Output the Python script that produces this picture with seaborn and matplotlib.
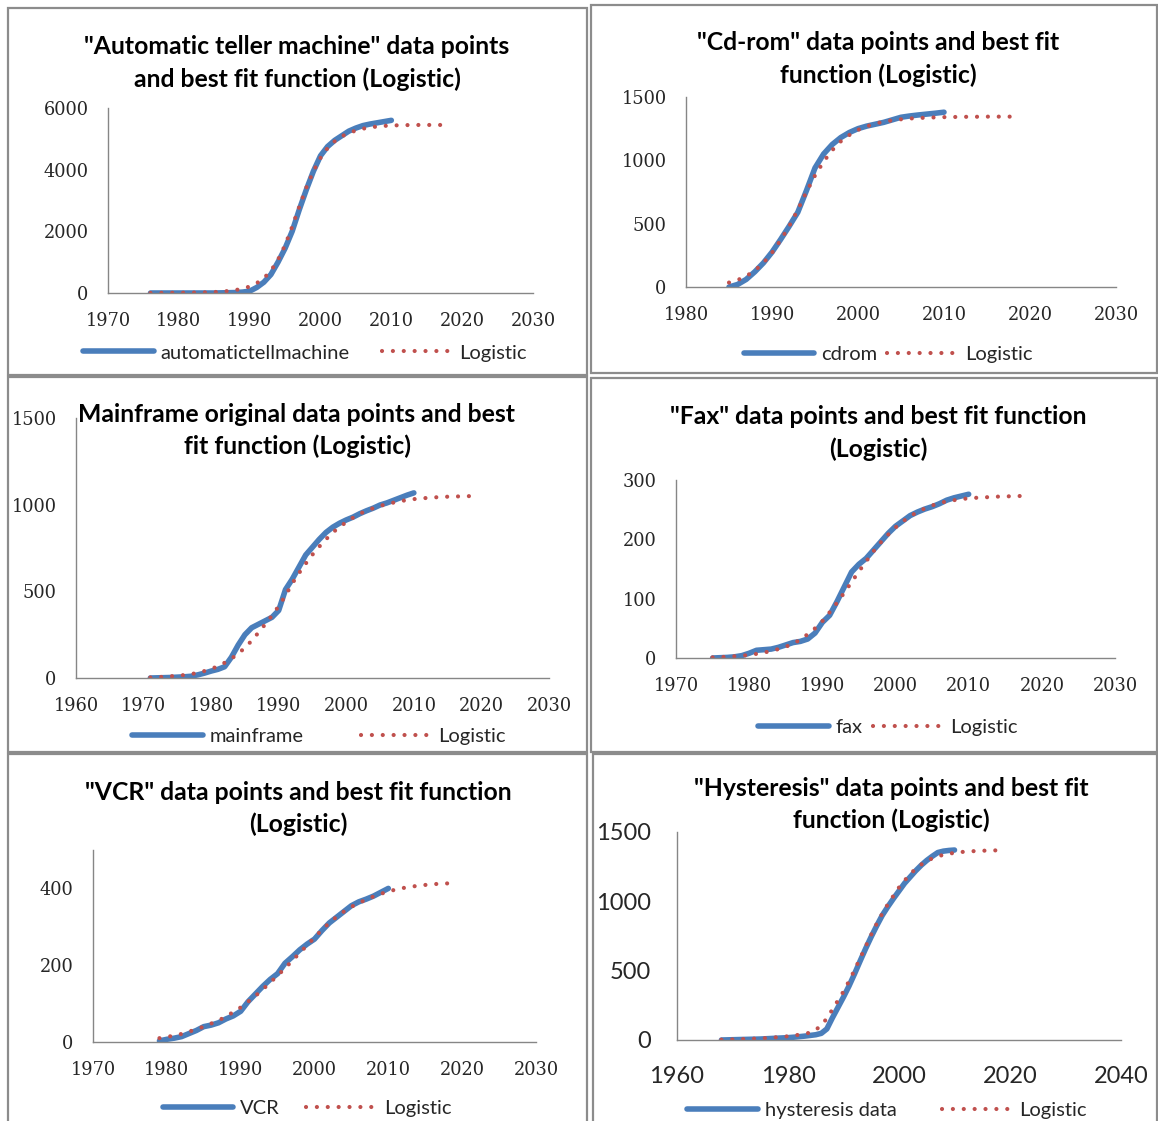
import matplotlib
matplotlib.use('Agg')
import matplotlib.pyplot as plt
from matplotlib.patches import Rectangle
import seaborn as sns

# ---- data ----
atm_years = list(range(1976, 2011))
atm_data = [0, 0, 0, 0, 0, 0, 0, 0, 0, 0,
            5, 10, 15, 30, 60, 180, 350, 600, 1000, 1450,
            2000, 2700, 3350, 3950, 4450, 4750, 4950, 5100, 5250, 5350,
            5430, 5480, 5520, 5560, 5600]
atm_fit_years = list(range(1976, 2019))
atm_fit = [2, 3, 4, 5, 7, 9, 12, 16, 22, 30,
           45, 65, 95, 140, 210, 320, 480, 720, 1080, 1550,
           2150, 2800, 3420, 3950, 4380, 4700, 4920, 5080, 5190, 5270,
           5330, 5370, 5400, 5420, 5430, 5440, 5445, 5448, 5450, 5450,
           5450, 5450, 5450]

cd_years = list(range(1985, 2011))
cd_data = [0, 20, 60, 120, 190, 275, 375, 480, 590, 760,
           940, 1050, 1125, 1180, 1220, 1250, 1270, 1285, 1300, 1320,
           1340, 1350, 1358, 1365, 1372, 1380]
cd_fit_years = list(range(1985, 2019))
cd_fit = [35, 55, 85, 130, 190, 270, 370, 480, 610, 750,
          880, 990, 1080, 1150, 1200, 1240, 1268, 1290, 1305, 1316,
          1324, 1330, 1334, 1337, 1339, 1341, 1342, 1343, 1344, 1344,
          1345, 1345, 1345, 1345]

mf_years = list(range(1971, 2011))
mf_data = [0, 1, 2, 3, 5, 7, 10, 18, 28, 40,
           50, 65, 120, 190, 250, 290, 310, 330, 350, 390,
           510, 570, 640, 710, 755, 800, 840, 870, 893, 912,
           928, 948, 965, 980, 998, 1010, 1025, 1040, 1055, 1068]
mf_fit_years = list(range(1971, 2020))
mf_fit = [3, 5, 7, 10, 13, 17, 22, 30, 40, 52,
          68, 88, 112, 140, 175, 215, 262, 310, 360, 415,
          475, 545, 605, 660, 712, 758, 800, 840, 870, 900,
          925, 948, 965, 980, 993, 1003, 1012, 1020, 1027, 1032,
          1036, 1039, 1042, 1044, 1046, 1047, 1048, 1049, 1050]

fax_years = list(range(1975, 2011))
fax_data = [0, 0.5, 1, 2, 4, 8, 13, 14, 15, 18,
            22, 26, 28, 32, 42, 60, 72, 95, 120, 145,
            158, 168, 182, 196, 210, 222, 231, 240, 246, 251,
            255, 260, 266, 270, 273, 276]
fax_fit_years = list(range(1975, 2019))
fax_fit = [1, 1.5, 2, 3, 4, 5, 7, 9, 12, 15,
           19, 24, 31, 40, 50, 62, 77, 93, 110, 128,
           146, 163, 180, 195, 208, 220, 230, 239, 246, 252,
           257, 261, 264, 266, 268, 269, 270, 271, 271, 272,
           272, 273, 273, 273]

vcr_years = list(range(1979, 2011))
vcr_data = [3, 7, 10, 14, 22, 30, 40, 44, 50, 60, 68,
            80, 105, 125, 145, 163, 178, 205, 222, 240, 255,
            268, 290, 310, 325, 340, 355, 365, 372, 380, 390,
            400]
vcr_fit_years = list(range(1979, 2019))
vcr_fit = [10, 13, 17, 21, 27, 33, 40, 48, 56, 66, 78,
           90, 105, 120, 137, 155, 173, 192, 212, 232, 252,
           272, 292, 310, 326, 340, 352, 362, 371, 379, 386,
           392, 397, 401, 404, 407, 409, 411, 412, 413]

hys_years = list(range(1968, 2011))
hys_data = [0, 1, 2, 3, 4, 5, 6, 7, 9, 11, 13, 15,
            17, 20, 24, 28, 33, 38, 48, 80, 160, 235,
            310, 390, 478, 570, 660, 745, 825, 900, 962, 1020,
            1075, 1130, 1175, 1220, 1260, 1295, 1325, 1352, 1362, 1367,
            1370]
hys_fit_years = list(range(1968, 2020))
hys_fit = [2, 3, 4, 5, 7, 8, 10, 12, 14, 17, 20, 23,
           27, 32, 38, 45, 53, 72, 108, 155, 220, 285,
           350, 425, 505, 590, 675, 760, 840, 912, 980, 1040,
           1100, 1150, 1195, 1235, 1265, 1290, 1310, 1325, 1335, 1343,
           1350, 1355, 1358, 1361, 1363, 1365, 1366, 1367, 1368, 1368]

W, H = 1158, 1121
BLUE = '#4A7EBB'
RED = '#C0504D'
GREY = '#868686'

sns.set_style('white')
fig = plt.figure(figsize=(W / 100, H / 100), dpi=100)


def box(x0, y0, x1, y1):
    # panel frame in pixel coords
    fig.patches.append(Rectangle((x0 / W, 1 - y1 / H), (x1 - x0) / W, (y1 - y0) / H,
                                 transform=fig.transFigure, fill=False,
                                 edgecolor='#8c8c8c', linewidth=1.6))


def axes_px(x0, y0, x1, y1):
    return fig.add_axes([x0 / W, 1 - y1 / H, (x1 - x0) / W, (y1 - y0) / H])


def title(lines, cx):
    for txt, cy in lines:
        fig.text(cx / W, 1 - cy / H, txt, ha='center', va='center',
                 fontsize=17.8, fontweight='bold', family='Lato', color='black')


def panel(rect, years, data, fit_years, fit, name, xlim, ylim, xticks, yticks,
          leg_x, leg_y, colsp, big=False):
    ax = axes_px(*rect)
    sns.lineplot(x=years, y=data, ax=ax, color=BLUE, linewidth=4, label=name)
    sns.lineplot(x=fit_years, y=fit, ax=ax, color=RED, linewidth=3,
                 linestyle=(0, (0.01, 2.6)), dash_capstyle='round', label='Logistic')
    ax.set_xlim(*xlim)
    ax.set_ylim(*ylim)
    ax.set_xticks(xticks)
    ax.set_yticks(yticks)
    ax.set_xticklabels([str(t) for t in xticks])
    ax.set_yticklabels([str(t) for t in yticks])
    for s in ['top', 'right']:
        ax.spines[s].set_visible(False)
    for s in ['left', 'bottom']:
        ax.spines[s].set_color(GREY)
        ax.spines[s].set_linewidth(1)
    ax.set_facecolor('none')
    if big:
        ax.tick_params(axis='both', length=6, color=GREY, width=1, direction='out',
                       labelsize=17, pad=13)
        for lab in ax.get_xticklabels() + ax.get_yticklabels():
            lab.set_family('Lato')
    else:
        ax.tick_params(axis='both', length=0, labelsize=12.8, pad=14)
        for lab in ax.get_xticklabels() + ax.get_yticklabels():
            lab.set_family('DejaVu Serif')
    ax.legend(loc='center', bbox_to_anchor=(leg_x / W, 1 - leg_y / H),
              bbox_transform=fig.transFigure, ncol=2, frameon=False,
              handlelength=3.5, handletextpad=0.35, columnspacing=colsp,
              prop={'family': 'Lato', 'size': 14.5})
    return ax


# panel frames
box(8, 8, 587, 375)
box(591, 5, 1157, 373)
box(8, 377, 587, 752)
box(591, 378, 1157, 752)
box(8, 754, 587, 1125)
box(593, 754, 1157, 1125)

panel((108, 108, 533, 293), atm_years, atm_data, atm_fit_years, atm_fit,
      'automatictellmachine', (1970, 2030), (0, 6000),
      [1970, 1980, 1990, 2000, 2010, 2020, 2030], [0, 2000, 4000, 6000], 305, 353, 1.6)
title([('"Automatic teller machine" data points', 47),
       ('and best fit function (Logistic)', 79)], 297)

panel((686, 97, 1116, 287), cd_years, cd_data, cd_fit_years, cd_fit,
      'cdrom', (1980, 2030), (0, 1500),
      [1980, 1990, 2000, 2010, 2020, 2030], [0, 500, 1000, 1500], 888, 354, 0.5)
title([('"Cd-rom" data points and best fit', 43),
       ('function (Logistic)', 75)], 878)

panel((76, 418, 549, 678), mf_years, mf_data, mf_fit_years, mf_fit,
      'mainframe', (1960, 2030), (0, 1500),
      [1960, 1970, 1980, 1990, 2000, 2010, 2020, 2030], [0, 500, 1000, 1500], 319, 736, 2.85)
title([('Mainframe original data points and best', 414),
       ('fit function (Logistic)', 446)], 297)

panel((676, 480, 1115, 658), fax_years, fax_data, fax_fit_years, fax_fit,
      'fax', (1970, 2030), (0, 300),
      [1970, 1980, 1990, 2000, 2010, 2020, 2030], [0, 100, 200, 300], 888, 727, 0.5)
title([('"Fax" data points and best fit function', 416),
       ('(Logistic)', 449)], 878)

panel((93, 850, 536, 1042), vcr_years, vcr_data, vcr_fit_years, vcr_fit,
      'VCR', (1970, 2030), (0, 500),
      [1970, 1980, 1990, 2000, 2010, 2020, 2030], [0, 200, 400], 307, 1108, 1.3)
title([('"VCR" data points and best fit function', 792),
       ('(Logistic)', 824)], 298)

panel((677, 832, 1121, 1040), hys_years, hys_data, hys_fit_years, hys_fit,
      'hysteresis data', (1960, 2040), (0, 1500),
      [1960, 1980, 2000, 2020, 2040], [0, 500, 1000, 1500], 887, 1110, 2.25, big=True)
title([('"Hysteresis" data points and best fit', 788),
       ('function (Logistic)', 820)], 891)

fig.savefig('out.png', dpi=100)
